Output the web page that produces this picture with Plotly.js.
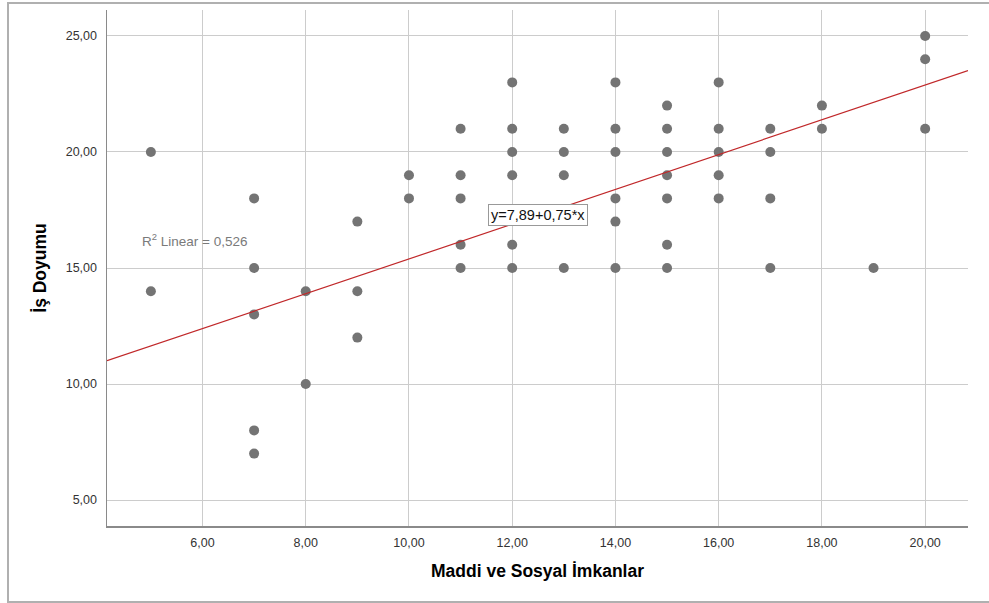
<!DOCTYPE html>
<html>
<head>
<meta charset="utf-8">
<script src="https://cdn.plot.ly/plotly-3.0.1.min.js"></script>
<style>
  html, body { margin: 0; padding: 0; background: #fff; }
  #frame { position: absolute; left: 7px; top: 2px; width: 1000px; height: 597px;
           border-left: 2px solid #b0b0b0; border-top: 2px solid #b0b0b0; border-bottom: 2px solid #b0b0b0; }
  #chart { position: absolute; left: 0; top: 0; width: 989px; height: 603px; }
</style>
</head>
<body>
<div id="frame"></div>
<div id="chart"></div>
<script>
// Maddi ve Sosyal İmkanlar (x) and İş Doyumu (y)
const maddiSosyal = [
  5, 5,
  7, 7, 7, 7, 7,
  8, 8,
  9, 9, 9,
  10, 10,
  11, 11, 11, 11, 11,
  12, 12, 12, 12, 12, 12,
  13, 13, 13, 13,
  14, 14, 14, 14, 14, 14,
  15, 15, 15, 15, 15, 15, 15,
  16, 16, 16, 16, 16,
  17, 17, 17, 17,
  18, 18,
  19,
  20, 20, 20
];
const isDoyumu = [
  20, 14,
  18, 15, 13, 8, 7,
  14, 10,
  17, 14, 12,
  19, 18,
  21, 19, 18, 16, 15,
  23, 21, 20, 19, 16, 15,
  21, 20, 19, 15,
  23, 21, 20, 18, 17, 15,
  22, 21, 20, 19, 18, 16, 15,
  23, 21, 20, 19, 18,
  21, 20, 18, 15,
  22, 21,
  15,
  25, 24, 21
];
const fitIntercept = 7.89;
const fitSlope = 0.75;
const rSquared = "0,526";
const xTicks = [6, 8, 10, 12, 14, 16, 18, 20];
const yTicks = [5, 10, 15, 20, 25];
const xRange = [4.15, 20.83];
const yRange = [3.88, 26.12];

const fitX = xRange.slice();
const fitY = fitX.map(v => fitIntercept + fitSlope * v);

const traces = [
  {
    x: maddiSosyal, y: isDoyumu, type: 'scatter', mode: 'markers',
    marker: { size: 10, color: '#747474' },
    hoverinfo: 'x+y', showlegend: false
  },
  {
    x: fitX, y: fitY, type: 'scatter', mode: 'lines',
    line: { color: '#c0282a', width: 1.2 },
    hoverinfo: 'skip', showlegend: false
  }
];

const fam = 'Arial, "Liberation Sans", sans-serif';
const axisFont = { family: fam, size: 12.5, color: '#333' };

const layout = {
  width: 989, height: 603,
  margin: { l: 107, r: 21, t: 10, b: 77 },
  paper_bgcolor: 'rgba(0,0,0,0)',
  plot_bgcolor: '#fff',
  separators: ',.',
  font: axisFont,
  xaxis: {
    range: xRange, tickvals: xTicks, tickformat: '.2f',
    showgrid: true, gridcolor: '#cccccc', gridwidth: 1,
    zeroline: false, showline: true, linecolor: '#8a8a8a', linewidth: 1.5,
    ticks: '', ticklabelstandoff: 4, tickfont: axisFont,
    title: { text: 'Maddi ve Sosyal İmkanlar', standoff: 16,
             font: { family: fam, size: 17.5, color: '#000', weight: 'bold' } }
  },
  yaxis: {
    range: yRange, tickvals: yTicks, tickformat: '.2f',
    showgrid: true, gridcolor: '#cccccc', gridwidth: 1,
    zeroline: false, showline: true, linecolor: '#8a8a8a', linewidth: 1.5,
    ticks: '', ticklabelstandoff: 6, tickfont: axisFont,
    title: { text: 'İş Doyumu', standoff: 14,
             font: { family: fam, size: 17.5, color: '#000', weight: 'bold' } }
  },
  annotations: [
    {
      x: 12.50, y: 17.28, xref: 'x', yref: 'y', showarrow: false,
      text: 'y=7,89+0,75*x',
      font: { family: fam, size: 14.5, color: '#111' },
      bgcolor: '#ffffff', bordercolor: '#999999', borderwidth: 1, borderpad: 2
    },
    {
      x: 5.85, y: 16.21, xref: 'x', yref: 'y', showarrow: false,
      text: 'R<sup>2</sup> Linear = ' + rSquared,
      font: { family: fam, size: 13.5, color: '#7a7a7a' }
    }
  ]
};

Plotly.newPlot('chart', traces, layout, { displayModeBar: false, staticPlot: true });
</script>
</body>
</html>
